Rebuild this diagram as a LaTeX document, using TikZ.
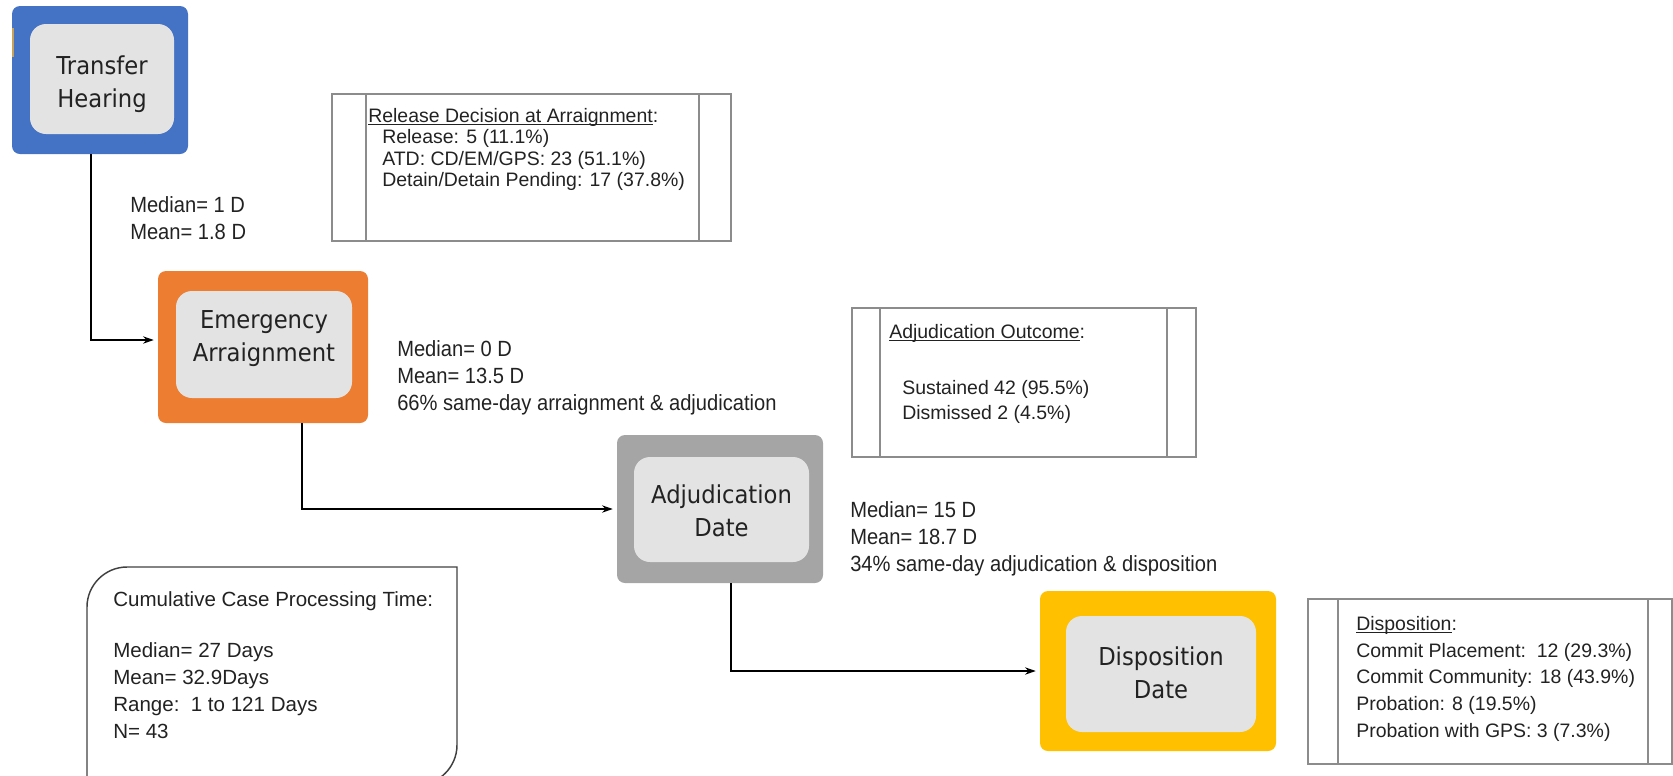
\documentclass[tikz,border=0pt]{standalone}
\usepackage{fontspec}
\setmainfont{Liberation Sans}
\newfontfamily\stagefont[FakeStretch=0.92]{DejaVu Sans}
\newfontfamily\notefont[FakeStretch=0.915]{Liberation Sans}
\usepackage{tikz}
\usetikzlibrary{arrows.meta}
\usepackage{xcolor}

\definecolor{thBlue}{HTML}{4472C4}
\definecolor{eaOrange}{HTML}{ED7D31}
\definecolor{adGray}{HTML}{A5A5A5}
\definecolor{ddGold}{HTML}{FFC000}
\definecolor{coreFill}{HTML}{E3E3E3}
\definecolor{frameGray}{HTML}{8C8C8C}
\definecolor{edgeDark}{HTML}{404040}
\definecolor{inkGray}{HTML}{222222}
\definecolor{tickTan}{HTML}{C9A25A}

% underlined box title, rule close to the baseline
\newcommand{\boxTitle}[1]{\sbox0{#1}\rlap{\rule[-2pt]{\wd0}{0.75pt}}\usebox0}

\tikzset{
  stage/.style={rounded corners=6pt, inner sep=0pt},
  core/.style={fill=coreFill, rounded corners=12pt, inner sep=0pt},
  stageText/.style={inner sep=0pt, align=center, text=inkGray,
    font=\stagefont\fontsize{18.5}{24.5}\selectfont},
  flow/.style={-{Stealth[length=8pt,width=5.5pt]}, line width=1pt, shorten >=3pt},
  frame/.style={draw=frameGray, line width=1.1pt},
  note/.style={anchor=north west, inner sep=0pt, align=left, text=inkGray,
    font=\notefont\fontsize{16.5}{20.25}\selectfont},
  tally/.style={anchor=north west, inner sep=0pt, align=left, text=inkGray},
}

\begin{document}
\begin{tikzpicture}[x=0.75pt,y=0.75pt,yscale=-1,xscale=1]
\useasboundingbox (0,0) rectangle (1673,775);

%Rounded Rect: Transfer Hearing
\node[stage, fill=thBlue, minimum width=132pt, minimum height=111pt] (th) at (100,80) {};
\draw[tickTan, line width=1.5pt] (13,28) -- (13,57);
\node[core, minimum width=108pt, minimum height=82.5pt] (thCore) at (102,79) {};
\node[stageText] (thLabel) at (102,84.5) {Transfer\\Hearing};

%Rounded Rect: Emergency Arraignment
\node[stage, fill=eaOrange, minimum width=157.5pt, minimum height=114pt] (ea) at (263,347) {};
\node[core, minimum width=132pt, minimum height=80.25pt] (eaCore) at (264,344.5) {};
\node[stageText] (eaLabel) at (264,338.5) {Emergency\\Arraignment};

%Rounded Rect: Adjudication Date
\node[stage, fill=adGray, minimum width=154.5pt, minimum height=111pt] (ad) at (720,509) {};
\node[core, minimum width=131.25pt, minimum height=78.75pt] (adCore) at (721.5,509.5) {};
\node[stageText] (adLabel) at (721.5,510.5) {Adjudication\\Date};

%Rounded Rect: Disposition Date
\node[stage, fill=ddGold, minimum width=177pt, minimum height=120pt] (dd) at (1158,671) {};
\node[core, minimum width=142.5pt, minimum height=87pt] (ddCore) at (1161,674) {};
\node[stageText] (ddLabel) at (1161,673) {Disposition\\Date};

%Elbow Arrows
\draw[flow] ([xshift=-6.75pt]th.south) |- ([yshift=-5.25pt]ea.west);
\draw[flow] ([xshift=29.25pt]ea.south) |- (ad.west);
\draw[flow] ([xshift=8.25pt]ad.south) |- (dd.west);

% Text Node
\node[note] (thNote) at (130,196) {Median= 1 D\\Mean= 1.8 D};
% Text Node
\node[note] (eaNote) at (397,340) {Median= 0 D\\Mean= 13.5 D\\66\% same-day arraignment \& adjudication};
% Text Node
\node[note] (adNote) at (850,501) {Median= 15 D\\Mean= 18.7 D\\34\% same-day adjudication \& disposition};

%Shape: Process box, release
\draw[frame] (332,94) rectangle (731,241);
\draw[frame] (366,94) -- (366,241);
\draw[frame] (699,94) -- (699,241);
% Text Node
\node[tally, font=\fontsize{14.6}{16}\selectfont] (relText) at (368,108)
  {\boxTitle{Release Decision at Arraignment}:\\
   \hspace*{10.5pt}Release: 5 (11.1\%)\\
   \hspace*{10.5pt}ATD: CD/EM/GPS: 23 (51.1\%)\\
   \hspace*{10.5pt}Detain/Detain Pending: 17 (37.8\%)};

%Shape: Process box, adjudication outcome
\draw[frame] (852,308) rectangle (1196,457);
\draw[frame] (880,308) -- (880,457);
\draw[frame] (1167,308) -- (1167,457);
% Text Node
\node[tally, font=\fontsize{14.6}{18.4}\selectfont] (outText) at (889,324)
  {\boxTitle{Adjudication Outcome}:\\[24pt]
   \hspace*{9.75pt}Sustained 42 (95.5\%)\\
   \hspace*{9.75pt}Dismissed 2 (4.5\%)};

%Shape: Process box, disposition
\draw[frame] (1308,599) rectangle (1672,764);
\draw[frame] (1338,599) -- (1338,764);
\draw[frame] (1648,599) -- (1648,764);
% Text Node
\node[tally, font=\fontsize{14.6}{20}\selectfont] (dispText) at (1356,616)
  {\boxTitle{Disposition}:\\
   Commit Placement:\ \ 12 (29.3\%)\\
   Commit Community: 18 (43.9\%)\\
   Probation: 8 (19.5\%)\\
   Probation with GPS: 3 (7.3\%)};

%Shape: Round Diagonal Corner Rectangle
\draw[edgeDark, line width=1.1pt] (87,785) -- (87,607) .. controls (87,585) and (105,567) .. (127,567) -- (457,567) -- (457,745) .. controls (457,767) and (439,785) .. (417,785) -- cycle;
% Text Node
\node[tally, font=\fontsize{15.4}{20.25}\selectfont] (cumText) at (113,591)
  {Cumulative Case Processing Time:\\[18.15pt]
   Median= 27 Days\\
   Mean= 32.9Days\\
   Range:\ \ 1 to 121 Days\\
   N= 43};

\end{tikzpicture}
\end{document}
